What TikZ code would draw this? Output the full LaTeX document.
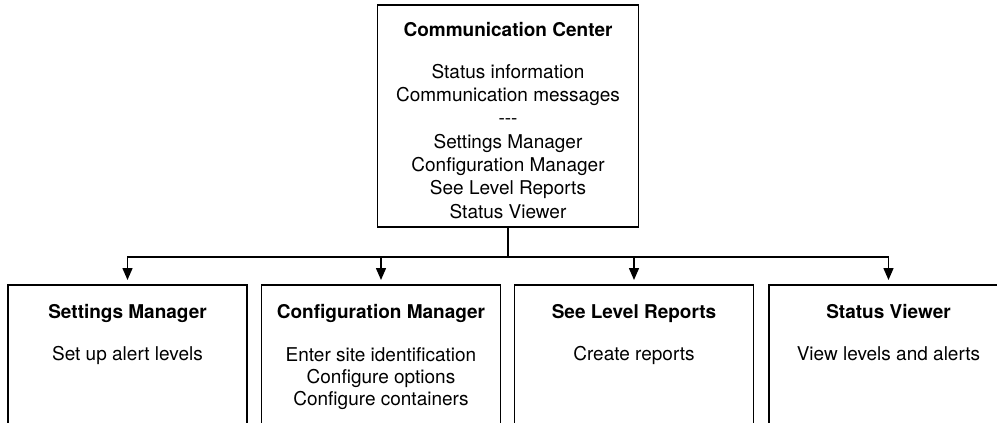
\documentclass[tikz,border=0pt]{standalone}
\usepackage{fontspec}
\setmainfont{TeX Gyre Heros}
\usetikzlibrary{positioning, arrows.meta, calc}

\begin{document}
\begin{tikzpicture}[
        x=1pt, y=-1pt,
        % Define styles for the module boxes
        module/.style={draw, line width=1.5pt, rectangle, inner sep=0pt, outer sep=0pt},
        topmodule/.style={module, minimum width=261pt, minimum height=222pt},
        submodule/.style={module, minimum width=239pt, minimum height=200pt},
        heading/.style={font=\fontsize{19}{23}\selectfont\bfseries, inner sep=0pt, anchor=north},
        body/.style={font=\fontsize{19}{23.3}\selectfont, align=center, inner sep=0pt, anchor=north},
        link/.style={line width=1.5pt},
        feed/.style={link, -{Triangle[width=10pt,length=12pt]}, shorten >=5pt}
    ]
    \useasboundingbox (0,0) rectangle (997,423);
    \clip (0,0) rectangle (997,423);

    % --- TOP MODULE ---
    \node[topmodule] (center) at (508,116) {};
    \node[heading] (centertitle) at (508,22) {Communication Center};
    \node[body] (centertext) at (508,64) {Status information\\Communication messages\\{-}{-}{-}\\Settings Manager\\Configuration Manager\\See Level Reports\\Status Viewer};

    % --- SUB MODULES ---
    \node[submodule] (settings) at (127.5,385) {};
    \node[submodule] (config) at (381,385) {};
    \node[submodule] (reports) at (634,385) {};
    \node[submodule] (viewer) at (888.5,385) {};

    \node[heading] (settingstitle) at (settings.north |- 0,304) {Settings Manager};
    \node[body] (settingstext) at (settings.north |- 0,346) {Set up alert levels};

    \node[heading] (configtitle) at (config.north |- 0,304) {Configuration Manager};
    \node[body, font=\fontsize{19}{22}\selectfont] (configtext) at (config.north |- 0,347) {Enter site identification\\Configure options\\Configure containers};

    \node[heading] (reportstitle) at (reports.north |- 0,304) {See Level Reports};
    \node[body] (reportstext) at (reports.north |- 0,346) {Create reports};

    \node[heading] (viewertitle) at (viewer.north |- 0,304) {Status Viewer};
    \node[body] (viewertext) at (viewer.north |- 0,346) {View levels and alerts};

    % --- CONNECTIONS ---
    \coordinate (split) at (508,257);
    \draw[link] (center) -- (split);
    \draw[feed] (split) -| (settings.north);
    \draw[feed] (split) -| (config.north);
    \draw[feed] (split) -| (reports.north);
    \draw[feed] (split) -| (viewer.north);

\end{tikzpicture}
\end{document}
